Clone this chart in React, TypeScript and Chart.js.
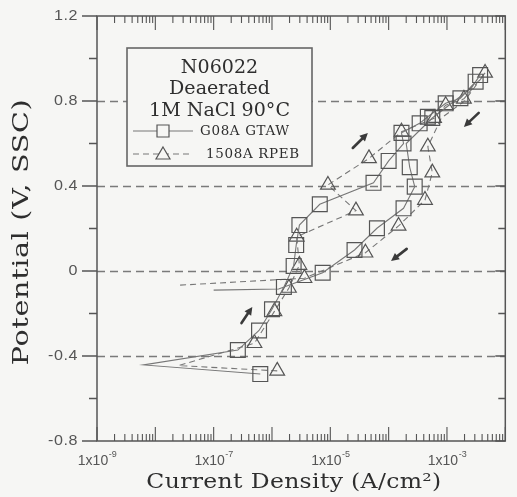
import React, { useEffect, useRef } from "react";
import { Chart, registerables } from "chart.js";

Chart.register(...registerables);

// ---- Data: G08A GTAW (squares, solid line) ----
const gtawCurrent = [
  6.3e-7, 6.3e-9, 2.6e-7, 6.0e-7, 1.0e-6, 1.6e-6, 2.35e-6, 2.6e-6, 2.95e-6, 6.6e-6,
  5.5e-5, 1.0e-4, 1.8e-4, 1.66e-4, 3.4e-4, 4.7e-4, 9.5e-4, 1.7e-3, 3.1e-3, 3.7e-3,
  2.6e-3, 5.6e-4, 2.0e-4, 2.3e-4, 2.8e-4, 1.8e-4, 6.3e-5, 2.6e-5, 7.4e-6, 1.3e-6, 1.0e-7,
];
const gtawPotential = [
  -0.485, -0.442, -0.372, -0.28, -0.18, -0.075, 0.024, 0.122, 0.216, 0.314,
  0.415, 0.518, 0.6, 0.65, 0.695, 0.726, 0.789, 0.813, 0.891, 0.922,
  0.86, 0.72, 0.6, 0.488, 0.397, 0.295, 0.201, 0.099, -0.008, -0.085, -0.09,
];
const gtawMarker = [
  1, 0, 1, 1, 1, 1, 1, 1, 1, 1,
  1, 1, 1, 1, 1, 1, 1, 1, 1, 1,
  0, 1, 0, 1, 1, 1, 1, 1, 1, 0, 0,
];

// ---- Data: 1508A RPEB (triangles, dashed line) ----
const rpebCurrent = [
  1.23e-6, 2.5e-8, 5.0e-7, 1.1e-6, 1.95e-6, 2.95e-6, 2.65e-6, 2.75e-5, 9.1e-6, 4.6e-5,
  1.66e-4, 6.0e-4, 9.5e-4, 1.95e-3, 4.5e-3,
  2.0e-3, 8.0e-4, 4.7e-4, 5.6e-4, 4.2e-4, 1.48e-4, 4.0e-5, 3.6e-6, 2.5e-8,
];
const rpebPotential = [
  -0.47, -0.445, -0.34, -0.19, -0.08, 0.028, 0.161, 0.284, 0.405, 0.53,
  0.655, 0.719, 0.78, 0.81, 0.932,
  0.8, 0.72, 0.585, 0.463, 0.334, 0.212, 0.086, -0.034, -0.067,
];
const rpebMarker = [
  1, 0, 1, 1, 1, 1, 1, 1, 1, 1,
  1, 1, 1, 1, 1,
  0, 0, 1, 1, 1, 1, 1, 1, 0,
];

// ---- Axes ----
const xMin = 1e-9;
const xMax = 1e-2;
const yMin = -0.8;
const yMax = 1.2;
const yMajorTicks = [-0.8, -0.4, 0, 0.4, 0.8, 1.2];
const yTickLabels = ["-0.8", "-0.4", "0", "0.4", "0.8", "1.2"];
const yMinorTicks = [-0.6, -0.2, 0.2, 0.6, 1.0];
const gridValues = [-0.4, 0, 0.4, 0.8];
const xDecades = [-9, -8, -7, -6, -5, -4, -3, -2];
const xLabelExponents = ["-9", "-7", "-5", "-3"];
const xTitle = "Current Density (A/cm\u00B2)";
const yTitle = "Potential (V, SSC)";

// ---- Legend ----
const legendTitleLines = ["N06022", "Deaerated", "1M NaCl 90\u00B0C"];
const seriesNames = ["G08A GTAW", "1508A RPEB"];

// ---- Direction arrows (tail -> head, data units) ----
const arrowTailI = [2.43e-5, 3.5e-3, 2.04e-4, 3.0e-7];
const arrowTailE = [0.579, 0.744, 0.104, -0.245];
const arrowHeadI = [4.4e-5, 1.95e-3, 1.1e-4, 4.6e-7];
const arrowHeadE = [0.649, 0.678, 0.047, -0.169];

const BG = "#f6f6f4";
const INK = "#555";
const TEXT = "#2e2e2e";
const SERIF = "'DejaVu Serif', 'Liberation Serif', serif";
const SANS = "'Liberation Sans', Arial, sans-serif";

function drawArrow(ctx: CanvasRenderingContext2D, x1: number, y1: number, x2: number, y2: number) {
  const ang = Math.atan2(y2 - y1, x2 - x1);
  const headLen = 8;
  const headW = 4;
  const bx = x2 - Math.cos(ang) * headLen;
  const by = y2 - Math.sin(ang) * headLen;
  ctx.save();
  ctx.strokeStyle = "#3a3a3a";
  ctx.fillStyle = "#3a3a3a";
  ctx.lineWidth = 2.6;
  ctx.lineCap = "round";
  ctx.beginPath();
  ctx.moveTo(x1, y1);
  ctx.lineTo(bx, by);
  ctx.stroke();
  ctx.beginPath();
  ctx.moveTo(x2, y2);
  ctx.lineTo(bx + Math.sin(ang) * headW, by - Math.cos(ang) * headW);
  ctx.lineTo(bx - Math.sin(ang) * headW, by + Math.cos(ang) * headW);
  ctx.closePath();
  ctx.fill();
  ctx.restore();
}

function wideText(
  ctx: any,
  text: string,
  x: number,
  y: number,
  font: string,
  sx: number,
  align: string,
  spacing: string,
  rotate = 0
) {
  ctx.save();
  ctx.translate(x, y);
  if (rotate) ctx.rotate(rotate);
  ctx.scale(sx, 1);
  ctx.font = font;
  ctx.textAlign = align;
  ctx.textBaseline = "middle";
  if ("letterSpacing" in ctx) ctx.letterSpacing = spacing;
  ctx.fillText(text, 0, 0);
  ctx.restore();
}

const customPlugin = {
  id: "customDraw",
  beforeDraw(chart: any) {
    const ctx = chart.ctx;
    ctx.save();
    ctx.fillStyle = BG;
    ctx.fillRect(0, 0, chart.width, chart.height);
    ctx.restore();
  },
  beforeDatasetsDraw(chart: any) {
    const ctx = chart.ctx;
    const a = chart.chartArea;
    const ys = chart.scales.y;
    ctx.save();
    ctx.strokeStyle = "#7a7a7a";
    ctx.lineWidth = 1.5;
    ctx.setLineDash([8, 5]);
    gridValues.forEach((v) => {
      const py = Math.round(ys.getPixelForValue(v)) + 0.5;
      ctx.beginPath();
      ctx.moveTo(a.left, py);
      ctx.lineTo(a.right, py);
      ctx.stroke();
    });
    ctx.restore();
  },
  afterDatasetsDraw(chart: any) {
    const ctx = chart.ctx;
    const a = chart.chartArea;
    const xs = chart.scales.x;
    const ys = chart.scales.y;
    ctx.save();

    // frame
    ctx.strokeStyle = INK;
    ctx.lineWidth = 1.5;
    ctx.strokeRect(a.left, a.top, a.right - a.left, a.bottom - a.top);

    // y ticks
    ctx.lineWidth = 1.3;
    yMajorTicks.forEach((v) => {
      const py = ys.getPixelForValue(v);
      ctx.beginPath();
      ctx.moveTo(a.left - 15, py);
      ctx.lineTo(a.left, py);
      ctx.moveTo(a.right, py);
      ctx.lineTo(a.right - 10, py);
      ctx.stroke();
    });
    yMinorTicks.forEach((v) => {
      const py = ys.getPixelForValue(v);
      ctx.beginPath();
      ctx.moveTo(a.left - 8, py);
      ctx.lineTo(a.left, py);
      ctx.moveTo(a.right, py);
      ctx.lineTo(a.right - 7, py);
      ctx.stroke();
    });

    // x ticks (log)
    ctx.lineWidth = 1.1;
    xDecades.forEach((d) => {
      const base = Math.pow(10, d);
      const px = xs.getPixelForValue(base);
      ctx.beginPath();
      ctx.moveTo(px, a.top);
      ctx.lineTo(px, a.top + 14);
      ctx.moveTo(px, a.bottom);
      ctx.lineTo(px, a.bottom - 14);
      ctx.stroke();
      if (d < -2) {
        for (let k = 2; k <= 9; k++) {
          const mx = xs.getPixelForValue(k * base);
          ctx.beginPath();
          ctx.moveTo(mx, a.top);
          ctx.lineTo(mx, a.top + 7);
          ctx.moveTo(mx, a.bottom);
          ctx.lineTo(mx, a.bottom - 7);
          ctx.stroke();
        }
      }
    });

    // y tick labels
    ctx.fillStyle = INK;
    yMajorTicks.forEach((v, i) => {
      wideText(ctx, yTickLabels[i], a.left - 19, ys.getPixelForValue(v), `14px ${SANS}`, 1.15, "right", "0.5px");
    });

    // x tick labels with superscript exponent
    xLabelExponents.forEach((e) => {
      const px = xs.getPixelForValue(Math.pow(10, Number(e)));
      ctx.font = `14px ${SANS}`;
      const w1 = ctx.measureText("1x10").width;
      ctx.font = `9px ${SANS}`;
      const w2 = ctx.measureText(e).width;
      const start = px - (w1 + w2) / 2;
      ctx.textAlign = "left";
      ctx.textBaseline = "alphabetic";
      ctx.font = `14px ${SANS}`;
      ctx.fillText("1x10", start, a.bottom + 24);
      ctx.font = `9px ${SANS}`;
      ctx.fillText(e, start + w1 + 0.5, a.bottom + 16);
    });

    // axis titles
    ctx.fillStyle = TEXT;
    wideText(ctx, xTitle, 294, 483, `21px ${SERIF}`, 1.12, "center", "0.3px");
    wideText(ctx, yTitle, 22, 232, `22px ${SERIF}`, 1.3, "center", "0.5px", -Math.PI / 2);

    // legend box
    const lx = 127, ly = 48, lw = 185, lh = 118;
    ctx.fillStyle = BG;
    ctx.fillRect(lx, ly, lw, lh);
    ctx.strokeStyle = "#666";
    ctx.lineWidth = 1.6;
    ctx.strokeRect(lx, ly, lw, lh);
    ctx.fillStyle = TEXT;
    legendTitleLines.forEach((t, i) => {
      wideText(ctx, t, lx + lw / 2, 68 + i * 21.5, `18px ${SERIF}`, 1.06, "center", "0px");
    });
    const rows = [131, 154];
    rows.forEach((ry, i) => {
      ctx.strokeStyle = "#777";
      ctx.lineWidth = 1.1;
      ctx.setLineDash(i === 0 ? [] : [6, 4]);
      ctx.beginPath();
      ctx.moveTo(133, ry);
      ctx.lineTo(193, ry);
      ctx.stroke();
      ctx.setLineDash([]);
      ctx.fillStyle = BG;
      ctx.strokeStyle = INK;
      ctx.lineWidth = 1.2;
      ctx.beginPath();
      if (i === 0) {
        ctx.rect(157, ry - 6, 12, 12);
      } else {
        ctx.moveTo(163, ry - 7);
        ctx.lineTo(170, ry + 5);
        ctx.lineTo(156, ry + 5);
        ctx.closePath();
      }
      ctx.fill();
      ctx.stroke();
      ctx.fillStyle = TEXT;
      wideText(ctx, seriesNames[i], i === 0 ? 200 : 206, ry + 1, `12px ${SERIF}`, 1.12, "left", "0.6px");
    });

    // arrows
    arrowTailI.forEach((ti, i) => {
      drawArrow(
        ctx,
        xs.getPixelForValue(ti),
        ys.getPixelForValue(arrowTailE[i]),
        xs.getPixelForValue(arrowHeadI[i]),
        ys.getPixelForValue(arrowHeadE[i])
      );
    });
    ctx.restore();
  },
};

export default function App() {
  const canvasRef = useRef<HTMLCanvasElement | null>(null);

  useEffect(() => {
    const canvas = canvasRef.current;
    if (!canvas) return;
    const chart = new Chart(canvas, {
      type: "line",
      data: {
        datasets: [
          {
            label: seriesNames[0],
            data: gtawCurrent.map((x, i) => ({ x, y: gtawPotential[i] })),
            borderColor: "#777",
            borderWidth: 1.1,
            pointStyle: "rect",
            pointRadius: gtawMarker.map((m) => (m ? 10.5 : 0)),
            pointBorderColor: "#555",
            pointBorderWidth: 1.2,
            pointBackgroundColor: "rgba(0,0,0,0)",
            tension: 0,
            fill: false,
          },
          {
            label: seriesNames[1],
            data: rpebCurrent.map((x, i) => ({ x, y: rpebPotential[i] })),
            borderColor: "#777",
            borderWidth: 1.1,
            borderDash: [6, 4],
            pointStyle: "triangle",
            pointRadius: rpebMarker.map((m) => (m ? 8.5 : 0)),
            pointBorderColor: "#555",
            pointBorderWidth: 1.2,
            pointBackgroundColor: "rgba(0,0,0,0)",
            tension: 0,
            fill: false,
          },
        ],
      },
      options: {
        responsive: false,
        animation: false,
        events: [],
        layout: { padding: { left: 97, right: 3, top: 16, bottom: 56 } },
        scales: {
          x: { type: "logarithmic", min: xMin, max: xMax, display: false },
          y: { type: "linear", min: yMin, max: yMax, display: false },
        },
        plugins: {
          legend: { display: false },
          tooltip: { enabled: false },
        },
      },
      plugins: [customPlugin],
    });
    return () => chart.destroy();
  }, []);

  return (
    <div style={{ position: "fixed", left: 0, top: 0, width: 517, height: 497 }}>
      <canvas ref={canvasRef} width={517} height={497} style={{ display: "block" }} />
    </div>
  );
}
